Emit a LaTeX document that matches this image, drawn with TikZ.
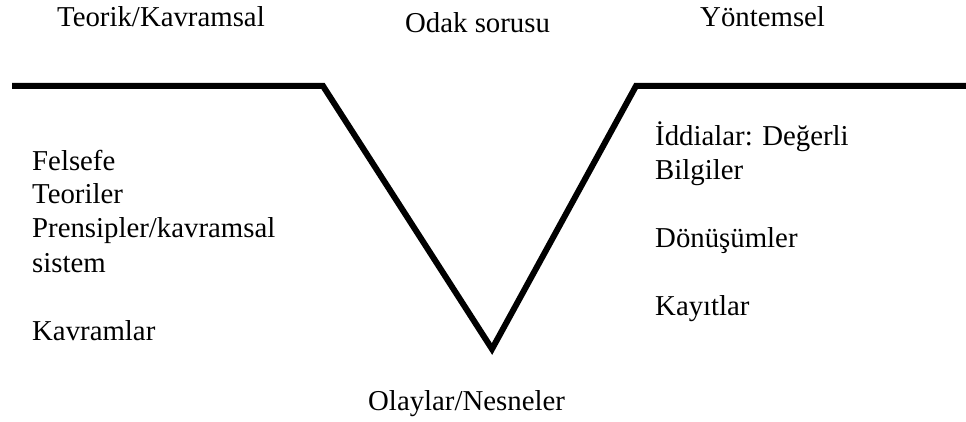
\documentclass[tikz,border=0pt]{standalone}
\usepackage{fontspec}
\setmainfont{Liberation Serif}
\begin{document}
\begin{tikzpicture}[x=1pt,y=1pt,
  lbl/.style={anchor=base west,inner sep=0pt,font=\fontsize{28.8}{34}\selectfont},
  vline/.style={line width=6pt,line join=miter,line cap=butt}]
\useasboundingbox (0,0) rectangle (966,421);
% V shape (y = 421 - image y)
\coordinate (a) at (12,335);
\coordinate (b) at (323,335);
\coordinate (c) at (492,72);
\coordinate (d) at (636,335);
\coordinate (e) at (966,335);
\draw[vline] (a) -- (b) -- (c) -- (d) -- (e);
% headings
\node[lbl] (teo) at (57,394) {Teorik/Kavramsal};
\node[lbl] (odak) at (405,388) {Odak sorusu};
\node[lbl] (yon) at (700,394) {Yöntemsel};
% left list
\node[lbl] (fel) at (32,251) {Felsefe};
\node[lbl] (teor) at (32,218) {Teoriler};
\node[lbl] (pren) at (32,184) {Prensipler/kavramsal};
\node[lbl] (sis) at (32,149) {sistem};
\node[lbl] (kav) at (32,81) {Kavramlar};
% right list
\node[lbl] (idd) at (655,275) {İddialar: Değerli};
\node[lbl] (bil) at (655,241) {Bilgiler};
\node[lbl] (don) at (655,174) {Dönüşümler};
\node[lbl] (kay) at (655,106) {Kayıtlar};
% bottom
\node[lbl] (ola) at (368,11) {Olaylar/Nesneler};
\end{tikzpicture}
\end{document}
